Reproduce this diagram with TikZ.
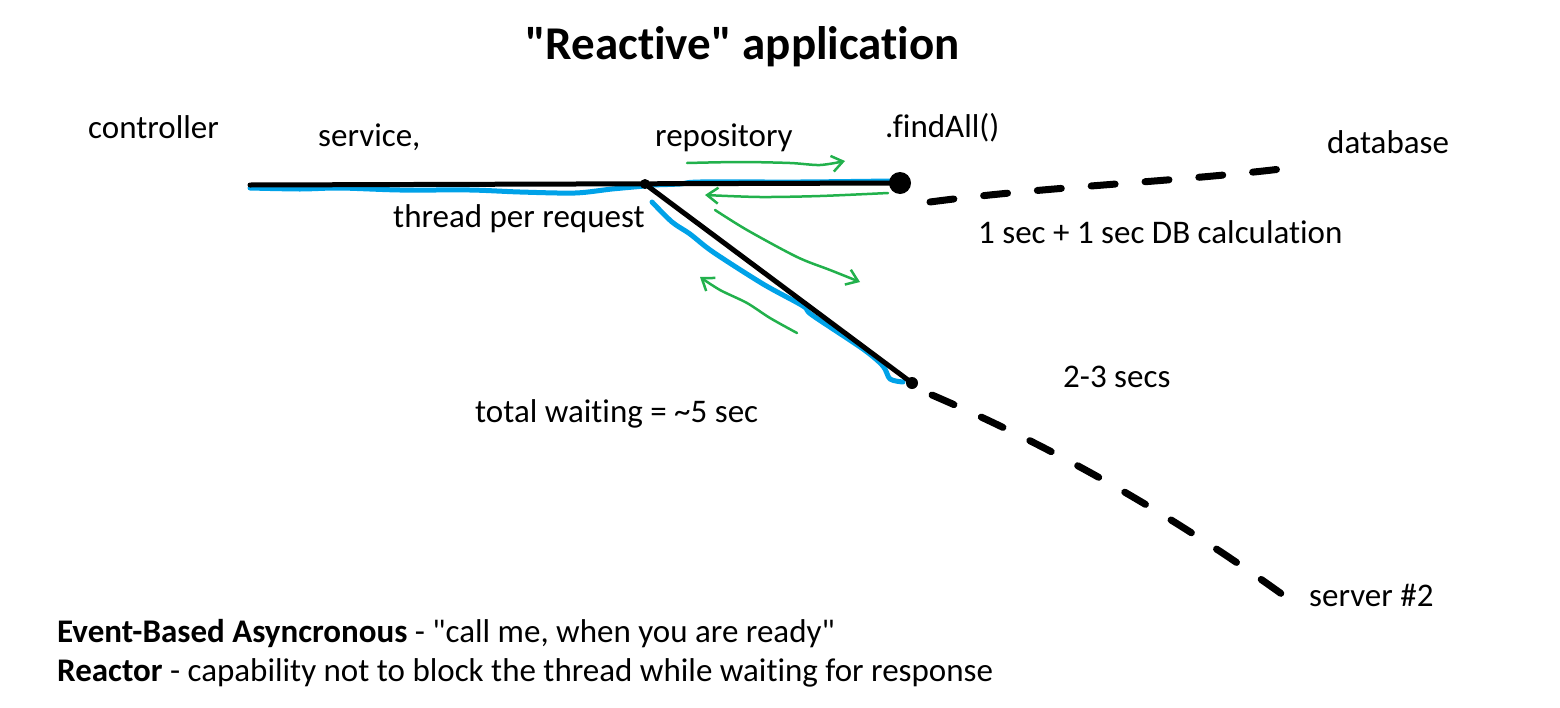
\documentclass[tikz,border=0pt]{standalone}
\usepackage{fontspec}
\setmainfont{Carlito}[Ligatures={NoCommon}]
\usepackage{tikz}
\usepackage{xcolor}
\usetikzlibrary{arrows.meta,positioning}

\definecolor{sketchblue}{HTML}{00A2E8}
\definecolor{sketchgreen}{HTML}{22B14C}

\begin{document}
\begin{tikzpicture}[
      x=1pt, y=-1pt,
      >={Straight Barb[length=11pt,width=16pt]},
      font=\fontsize{33}{38}\selectfont,
      lbl/.style={anchor=base west, inner sep=0pt},
      wire/.style={line width=5pt, line cap=round},
      thread/.style={sketchblue, line width=5pt, line cap=round, line join=round},
      flow/.style={->, sketchgreen, line width=2.5pt, line cap=round, line join=round},
      dashlink/.style={line width=7pt, line cap=round, dash pattern=on 24pt off 30pt}
    ]
    \useasboundingbox (0,0) rectangle (1560,707);

    % texts
    \node[lbl, font=\fontsize{47}{54}\selectfont\bfseries] (title) at (525,59)
    {\textquotedbl Reactive\textquotedbl{} application};
    \node[lbl] (controller) at (88,138) {controller};
    \node[lbl] (service) at (318,146) {service,};
    \node[lbl] (repository) at (655,146) {repository};
    \node[lbl] (findall) at (885,137) {.findAll()};
    \node[lbl] (database) at (1327,153) {database};
    \node[lbl] (thread) at (393,227) {thread per request};
    \node[lbl] (dbtime) at (978,243) {1 sec + 1 sec DB calculation};
    \node[lbl] (remotetime) at (1063,387) {2-3 secs};
    \node[lbl] (total) at (475,422) {total waiting = \textasciitilde5 sec};
    \node[lbl] (server) at (1309,606) {server \#2};
    \node[lbl] (eventline) at (57,642)
    {\textbf{Event-Based Asyncronous} - \textquotedbl call me, when you are ready\textquotedbl};
    \node[lbl] (reactorline) at (57,681)
    {\textbf{Reactor} - capability not to block the thread while waiting for response};

    % call chain
    \coordinate (start) at (250,185);
    \coordinate (junction) at (645,184);
    \coordinate (findend) at (900,183);
    \coordinate (remote) at (912,383);
    \coordinate (dbstart) at (930,202);
    \coordinate (dbend) at (1297,167);
    \coordinate (srvstart) at (932,395);
    \coordinate (srvend) at (1290,600);

    \draw[thread] plot[smooth] coordinates {(250,188) (300,189) (340,188)
      (400,190) (470,190) (520,192) (575,193) (612,189) (645,186)};
    \draw[thread] plot[smooth] coordinates {(650,185) (680,184) (700,182)
      (800,182) (890,181)};
    \draw[thread] plot[smooth] coordinates {(652,202) (672,222) (690,234)
      (713,252) (763,284) (803,306) (812,315) (863,349) (883,366) (890,379)
      (903,382)};

    \draw[wire] (start) -- (findend);
    \draw[wire] (junction) -- (remote);
    \fill (junction) circle (5pt);
    \fill (findend) circle (11pt);
    \fill (remote) circle (6pt);

    \draw[dashlink] (dbstart) .. controls (1050,186) and (1180,182) .. (dbend);
    \draw[dashlink] (srvstart) .. controls (1060,450) and (1180,520) .. (srvend);

    % request / response arrows
    \draw[flow] plot[smooth] coordinates {(687,163) (740,162) (790,163)
      (820,165) (845,161)};
    \draw[flow] plot[smooth] coordinates {(888,193) (820,196) (760,197)
      (705,195)};
    \draw[flow] plot[smooth] coordinates {(715,210) (747,230) (797,257)
      (830,270) (860,282)};
    \draw[flow] plot[smooth] coordinates {(797,333) (770,318) (747,303)
      (720,290) (700,277)};
\end{tikzpicture}
\end{document}
